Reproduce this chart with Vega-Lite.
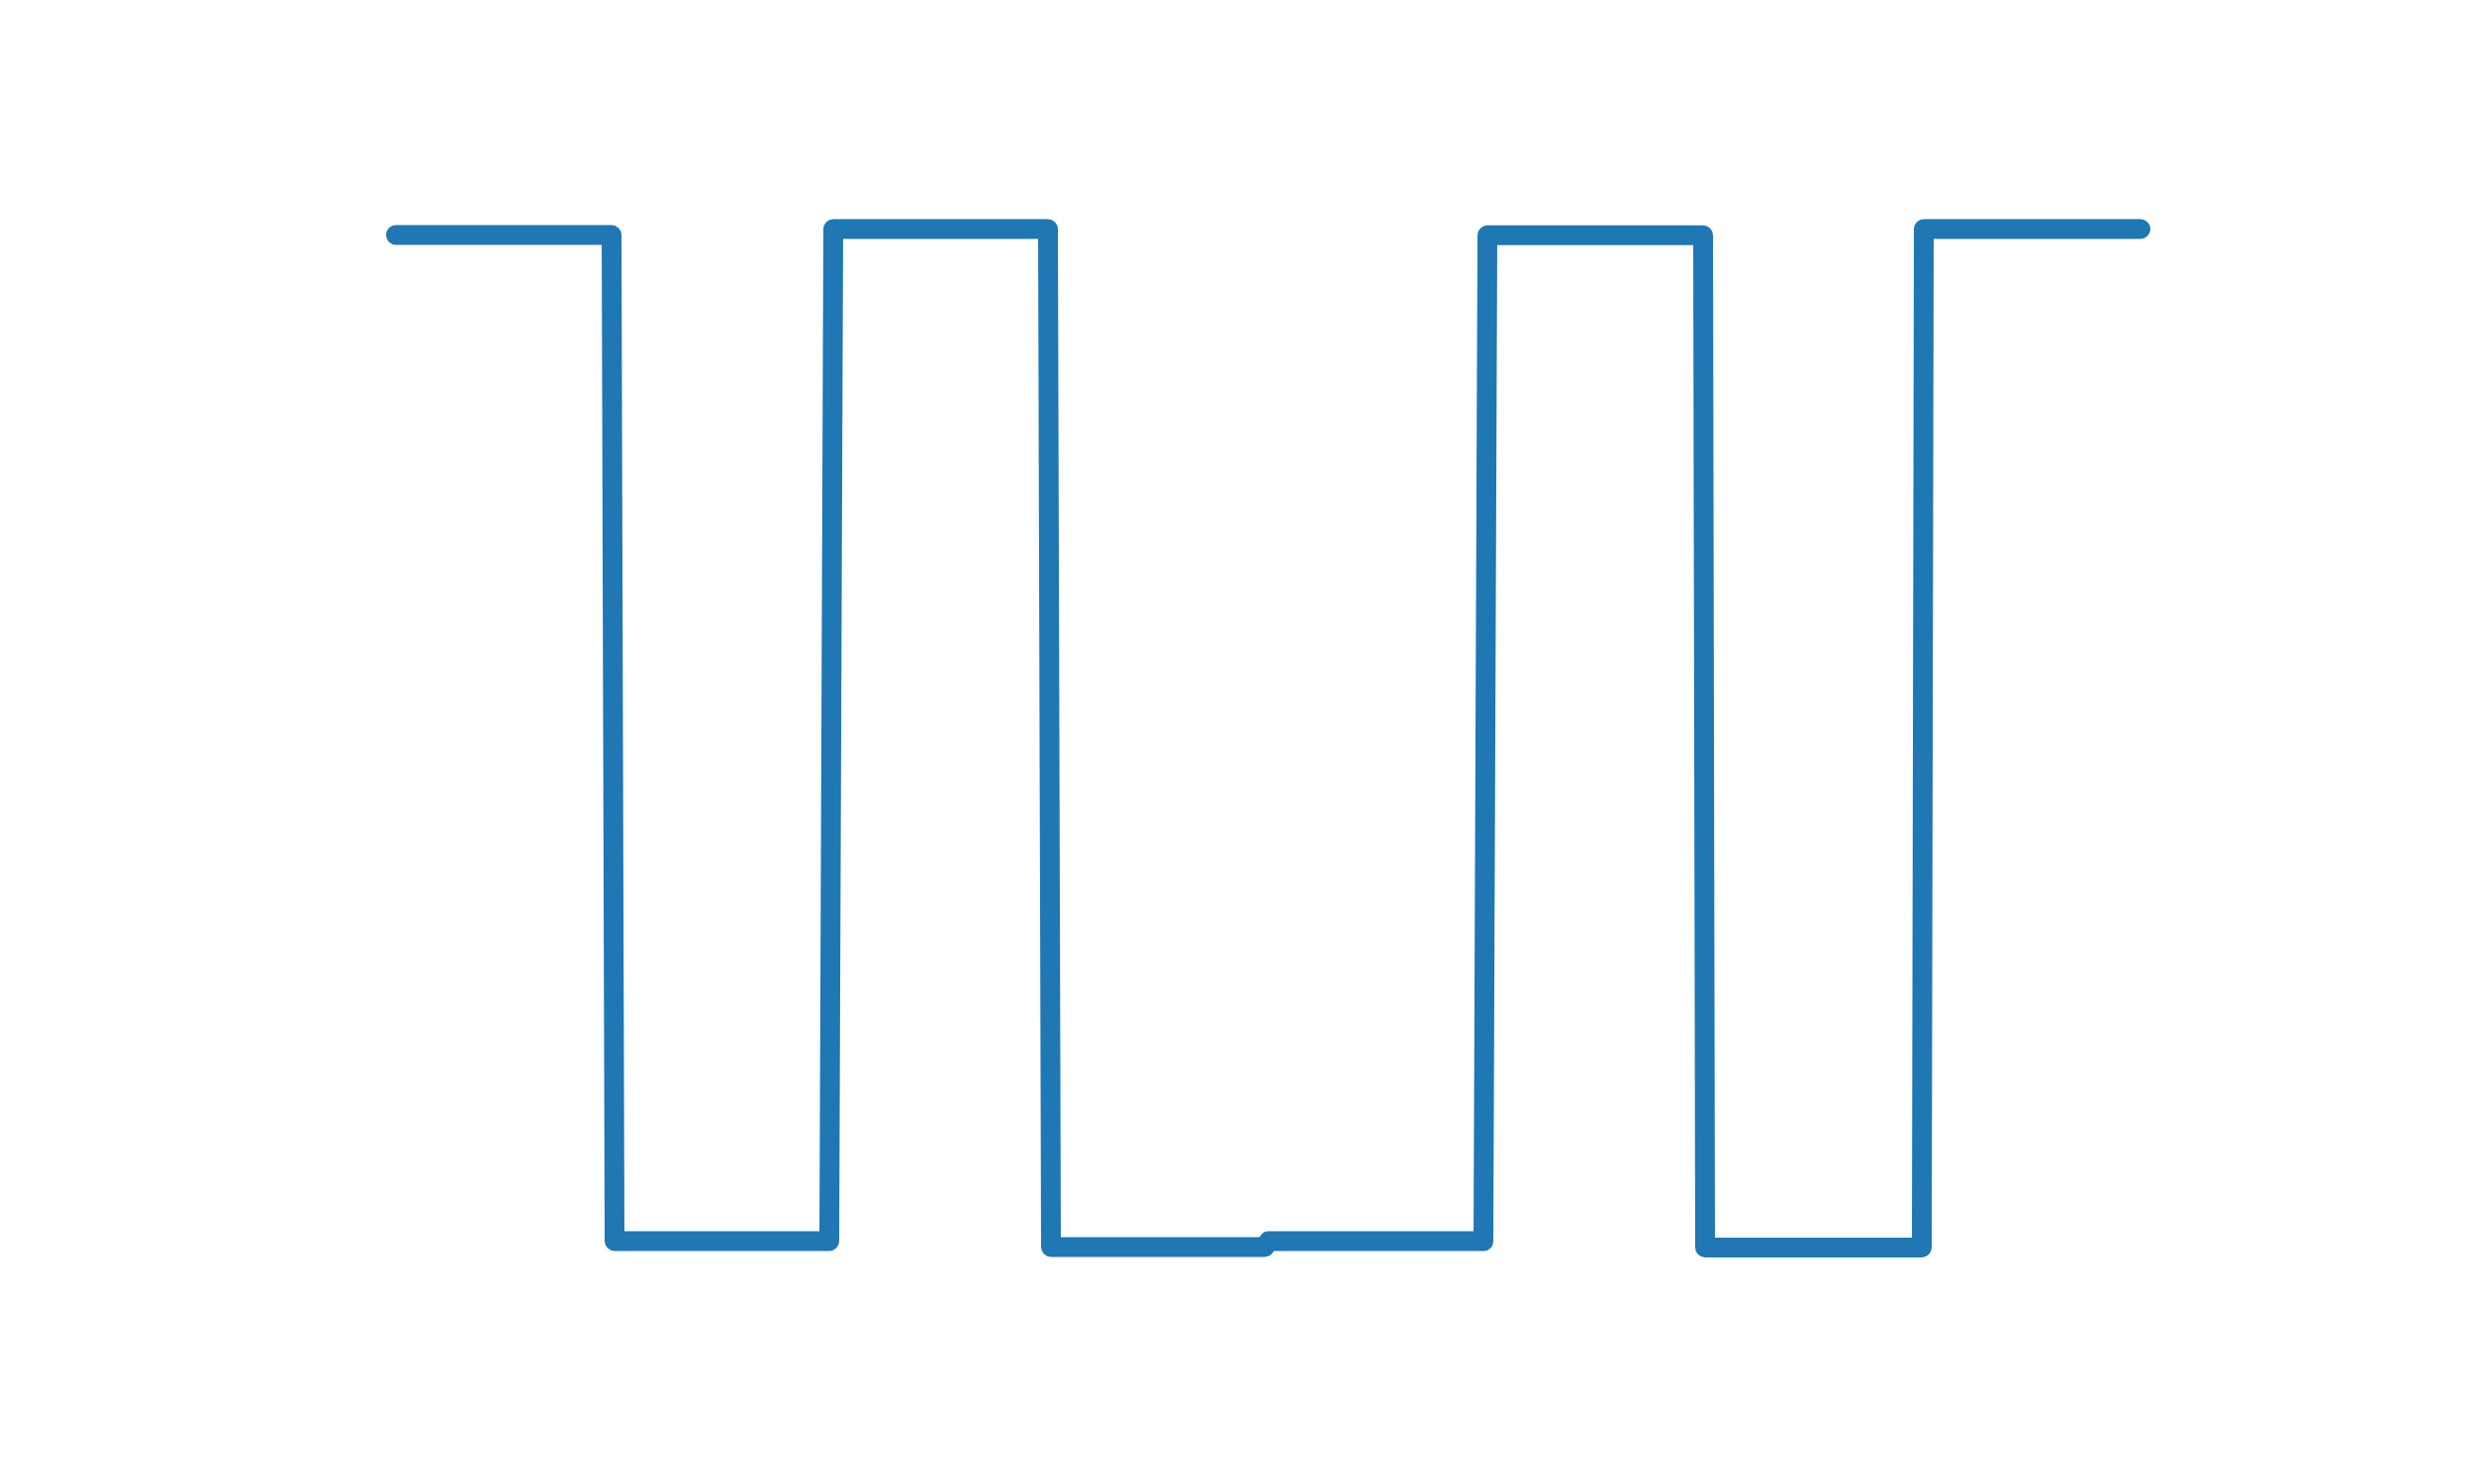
{
  "$schema": "https://vega.github.io/schema/vega-lite/v6.json",
  "width": 2500,
  "height": 1500,
  "autosize": "none",
  "padding": 0,
  "background": "white",
  "config": {"view": {"stroke": null}},
  "data": {"values": [
    {"t": 0.0, "v": 0.9947},
    {"t": 1.0, "v": 0.9947},
    {"t": 1.0138, "v": 0.0063},
    {"t": 2.0092, "v": 0.0063},
    {"t": 2.0275, "v": 1.0005},
    {"t": 3.0229, "v": 1.0005},
    {"t": 3.0367, "v": 0.0005},
    {"t": 4.0275, "v": 0.0005},
    {"t": 4.0459, "v": 0.0062},
    {"t": 5.0413, "v": 0.0062},
    {"t": 5.0596, "v": 0.9944},
    {"t": 6.0596, "v": 0.9944},
    {"t": 6.0688, "v": 0.0},
    {"t": 7.0734, "v": 0.0},
    {"t": 7.0826, "v": 1.0005},
    {"t": 8.0872, "v": 1.0005}
  ]},
  "mark": {"type": "line", "color": "#1f77b4", "strokeWidth": 20, "strokeCap": "round", "strokeJoin": "round"},
  "encoding": {
    "x": {"field": "t", "type": "quantitative", "axis": null, "scale": {"domain": [-1.8349, 9.633], "nice": false, "zero": false}},
    "y": {"field": "v", "type": "quantitative", "axis": null, "scale": {"domain": [-0.2323, 1.2255], "nice": false, "zero": false}},
    "order": {"field": "t", "type": "quantitative"}
  }
}
